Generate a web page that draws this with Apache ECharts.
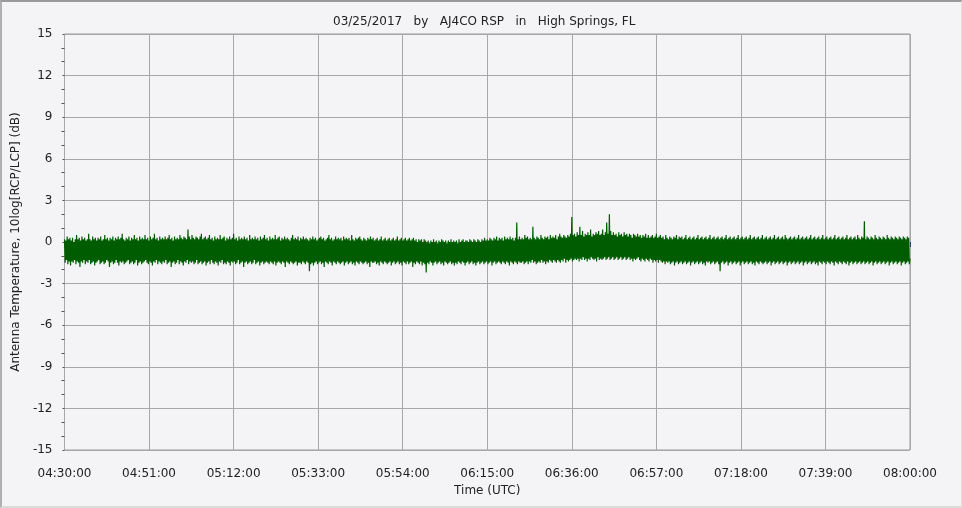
<!DOCTYPE html>
<html>
<head>
<meta charset="utf-8">
<script src="https://cdn.jsdelivr.net/npm/echarts@6/dist/echarts.min.js"></script>
<style>
html,body{margin:0;padding:0;background:#f4f4f6;}
#c{width:962px;height:508px;box-sizing:border-box;border-top:2px solid #9a9a9a;border-left:2px solid #b0b0b0;border-right:1px solid #e0e0e0;border-bottom:2px solid #dcdcdc;}
</style>
</head>
<body>
<div id="c"></div>
<script>
// ---- data ----
var titleText = '03/25/2017   by   AJ4CO RSP   in   High Springs, FL';
var xTickLabels = ['04:30:00','04:51:00','05:12:00','05:33:00','05:54:00','06:15:00','06:36:00','06:57:00','07:18:00','07:39:00','08:00:00'];
var xTickStepMinutes = 21;
var sampleStepSeconds = 10;
var yTicks = [-15,-12,-9,-6,-3,0,3,6,9,12,15];
var ratioDb = [
0.2,-1.5,0.1,-1.3,0.4,-1.6,0.2,-1.4,0.3,-1.7,
0.1,-1.4,0.3,-1.5,0.0,-1.3,0.2,-1.6,0.5,-1.4,
0.2,-1.5,0.3,-1.8,0.1,-1.4,0.4,-1.5,0.2,-1.3,
0.3,-1.6,0.1,-1.4,0.2,-1.5,0.6,-1.3,0.2,-1.6,
0.1,-1.5,0.4,-1.4,0.2,-1.7,0.3,-1.5,0.1,-1.4,
0.3,-1.3,0.2,-1.6,0.4,-1.5,0.1,-1.4,0.2,-1.6,
0.5,-1.5,0.2,-1.3,0.3,-1.4,0.1,-1.8,0.3,-1.5,
0.2,-1.4,0.4,-1.6,0.1,-1.5,0.3,-1.3,0.2,-1.5,
0.4,-1.7,0.2,-1.4,0.3,-1.5,0.6,-1.4,0.2,-1.6,
0.1,-1.5,0.3,-1.4,0.2,-1.3,0.4,-1.6,0.1,-1.5,
0.3,-1.4,0.2,-1.6,0.5,-1.5,0.2,-1.3,0.3,-1.7,
0.1,-1.5,0.4,-1.4,0.2,-1.6,0.3,-1.5,0.2,-1.4,
0.5,-1.3,0.2,-1.5,0.3,-1.6,0.1,-1.4,0.4,-1.5,
0.2,-1.7,0.3,-1.4,0.6,-1.5,0.2,-1.3,0.3,-1.6,
0.1,-1.4,0.4,-1.5,0.2,-1.6,0.3,-1.4,0.2,-1.5,
0.4,-1.3,0.2,-1.6,0.3,-1.5,0.5,-1.4,0.2,-1.8,
0.3,-1.5,0.1,-1.4,0.4,-1.6,0.2,-1.5,0.3,-1.3,
0.2,-1.6,0.5,-1.4,0.3,-1.5,0.2,-1.7,0.4,-1.4,
0.3,-1.5,0.2,-1.3,0.9,-1.6,0.4,-1.4,0.2,-1.5,
0.5,-1.4,0.3,-1.6,0.2,-1.5,0.4,-1.3,0.3,-1.6,
0.2,-1.5,0.4,-1.4,0.6,-1.6,0.2,-1.5,0.3,-1.4,
0.4,-1.7,0.2,-1.5,0.3,-1.4,0.5,-1.6,0.2,-1.3,
0.3,-1.5,0.1,-1.6,0.4,-1.4,0.2,-1.5,0.3,-1.7,
0.2,-1.4,0.5,-1.5,0.2,-1.3,0.3,-1.6,0.4,-1.5,
0.1,-1.6,0.3,-1.4,0.2,-1.5,0.4,-1.7,0.2,-1.4,
0.3,-1.5,0.6,-1.4,0.2,-1.6,0.3,-1.5,0.1,-1.3,
0.4,-1.6,0.2,-1.5,0.3,-1.4,0.2,-1.8,0.4,-1.5,
0.2,-1.4,0.3,-1.6,0.1,-1.5,0.5,-1.4,0.2,-1.6,
0.3,-1.5,0.2,-1.3,0.4,-1.6,0.2,-1.5,0.3,-1.4,
0.1,-1.7,0.4,-1.5,0.2,-1.4,0.3,-1.6,0.5,-1.5,
0.2,-1.4,0.3,-1.5,0.1,-1.6,0.4,-1.4,0.2,-1.5,
0.3,-1.6,0.2,-1.4,0.5,-1.7,0.2,-1.5,0.3,-1.4,
0.4,-1.5,0.1,-1.6,0.3,-1.4,0.2,-1.5,0.4,-1.8,
0.2,-1.4,0.3,-1.5,0.2,-1.6,0.1,-1.4,0.3,-1.5,
0.5,-1.6,0.2,-1.5,0.3,-1.4,0.2,-1.7,0.4,-1.5,
0.1,-1.5,0.3,-1.6,0.2,-1.4,0.4,-1.5,0.2,-1.6,
0.3,-1.4,0.2,-1.5,0.1,-2.1,0.3,-1.6,0.2,-1.5,
0.4,-1.7,0.2,-1.5,0.3,-1.4,0.1,-1.6,0.2,-1.5,
0.3,-1.4,0.4,-1.6,0.2,-1.5,0.3,-1.8,0.1,-1.4,
0.2,-1.5,0.3,-1.6,0.5,-1.4,0.2,-1.5,0.3,-1.7,
0.1,-1.4,0.2,-1.5,0.4,-1.6,0.2,-1.4,0.3,-1.5,
0.2,-1.6,0.3,-1.5,0.1,-1.4,0.4,-1.7,0.2,-1.5,
0.3,-1.4,0.2,-1.6,0.3,-1.5,0.1,-1.4,0.5,-1.6,
0.2,-1.5,0.1,-1.7,0.3,-1.4,0.2,-1.5,0.3,-1.6,
0.4,-1.4,0.2,-1.5,0.1,-1.6,0.3,-1.5,0.2,-1.4,
0.1,-1.6,0.3,-1.5,0.2,-1.8,0.4,-1.4,0.2,-1.5,
0.3,-1.5,0.1,-1.4,0.2,-1.6,0.3,-1.5,0.1,-1.7,
0.2,-1.4,0.4,-1.5,0.1,-1.6,0.2,-1.4,0.3,-1.5,
0.1,-1.6,0.2,-1.5,0.3,-1.4,0.1,-1.7,0.2,-1.5,
0.3,-1.4,0.1,-1.6,0.2,-1.5,0.4,-1.4,0.1,-1.6,
0.2,-1.5,0.3,-1.7,0.1,-1.4,0.2,-1.5,0.3,-1.6,
0.1,-1.4,0.2,-1.6,0.3,-1.5,0.1,-1.4,0.2,-1.8,
0.3,-1.5,0.1,-1.6,0.2,-1.4,0.0,-1.5,0.2,-1.6,
0.1,-1.4,0.2,-1.7,0.0,-1.5,0.2,-1.6,0.1,-2.2,
0.0,-1.5,0.1,-1.6,-0.1,-1.4,0.1,-1.5,0.0,-1.7,
0.2,-1.5,0.0,-1.4,0.1,-1.6,-0.1,-1.5,0.1,-1.4,
0.0,-1.6,0.2,-1.5,0.1,-1.7,0.0,-1.4,0.1,-1.5,
-0.1,-1.6,0.1,-1.5,0.0,-1.4,0.2,-1.6,0.0,-1.5,
0.1,-1.7,0.0,-1.5,0.1,-1.6,-0.1,-1.4,0.2,-1.5,
0.0,-1.6,0.1,-1.4,0.2,-1.5,0.0,-1.7,0.1,-1.5,
0.1,-1.4,0.0,-1.6,0.2,-1.5,0.1,-1.4,0.0,-1.6,
0.2,-1.5,0.1,-1.7,0.0,-1.5,0.2,-1.4,0.1,-1.6,
0.0,-1.5,0.2,-1.4,0.1,-1.6,0.3,-1.5,0.1,-1.4,
0.2,-1.6,0.1,-1.5,0.3,-1.4,0.2,-1.7,0.1,-1.5,
0.3,-1.4,0.2,-1.6,0.4,-1.5,0.1,-1.4,0.3,-1.5,
0.2,-1.6,0.3,-1.4,0.1,-1.5,0.4,-1.6,0.2,-1.4,
0.3,-1.5,0.2,-1.7,0.4,-1.4,0.2,-1.5,0.3,-1.6,
0.1,-1.4,0.3,-1.5,1.4,-1.6,0.2,-1.4,0.4,-1.5,
0.2,-1.5,0.3,-1.4,0.2,-1.6,0.5,-1.5,0.3,-1.4,
0.4,-1.6,0.2,-1.4,0.3,-1.5,0.2,-1.3,1.1,-1.5,
0.3,-1.4,0.2,-1.6,0.4,-1.5,0.3,-1.4,0.2,-1.5,
0.5,-1.3,0.3,-1.5,0.2,-1.4,0.4,-1.6,0.3,-1.4,
0.4,-1.5,0.2,-1.3,0.5,-1.4,0.3,-1.5,0.4,-1.3,
0.3,-1.4,0.5,-1.5,0.2,-1.3,0.4,-1.4,0.6,-1.5,
0.4,-1.3,0.3,-1.4,0.5,-1.2,0.4,-1.5,0.3,-1.3,
0.5,-1.4,0.4,-1.3,0.6,-1.2,1.8,-1.4,0.5,-1.3,
0.6,-1.2,0.4,-1.3,0.7,-1.2,0.5,-1.4,1.1,-1.2,
0.5,-1.3,0.8,-1.1,0.4,-1.3,0.6,-1.2,0.5,-1.4,
0.7,-1.2,0.5,-1.3,0.9,-1.1,0.4,-1.2,0.6,-1.3,
0.5,-1.2,0.7,-1.4,0.6,-1.1,0.8,-1.3,0.5,-1.2,
0.6,-1.3,0.9,-1.2,0.5,-1.1,0.7,-1.3,1.4,-1.2,
0.6,-1.1,2.0,-1.3,0.8,-1.2,0.5,-1.1,0.7,-1.3,
0.5,-1.2,0.6,-1.1,0.4,-1.3,0.7,-1.2,0.5,-1.1,
0.6,-1.3,0.4,-1.2,0.7,-1.1,0.5,-1.3,0.6,-1.2,
0.4,-1.1,0.6,-1.3,0.5,-1.2,0.3,-1.4,0.6,-1.2,
0.5,-1.3,0.4,-1.2,0.6,-1.1,0.4,-1.3,0.5,-1.4,
0.3,-1.2,0.5,-1.3,0.4,-1.4,0.6,-1.2,0.3,-1.3,
0.5,-1.4,0.3,-1.2,0.4,-1.3,0.5,-1.5,0.3,-1.3,
0.4,-1.4,0.6,-1.3,0.3,-1.5,0.4,-1.3,0.5,-1.4,
0.3,-1.5,0.4,-1.4,0.2,-1.6,0.5,-1.4,0.3,-1.5,
0.2,-1.4,0.4,-1.6,0.3,-1.5,0.2,-1.4,0.4,-1.7,
0.3,-1.5,0.5,-1.4,0.2,-1.6,0.4,-1.5,0.3,-1.4,
0.4,-1.6,0.2,-1.5,0.3,-1.4,0.5,-1.6,0.2,-1.5,
0.3,-1.4,0.4,-1.7,0.2,-1.5,0.3,-1.4,0.4,-1.6,
0.2,-1.5,0.3,-1.4,0.5,-1.6,0.2,-1.5,0.3,-1.4,
0.4,-1.6,0.2,-1.5,0.3,-1.7,0.4,-1.4,0.2,-1.5,
0.3,-1.4,0.5,-1.6,0.2,-1.5,0.3,-1.4,0.4,-1.6,
0.2,-1.5,0.3,-1.4,0.4,-1.6,0.2,-2.1,0.3,-1.5,
0.4,-1.4,0.2,-1.6,0.3,-1.5,0.5,-1.4,0.2,-1.7,
0.3,-1.5,0.4,-1.4,0.2,-1.6,0.3,-1.5,0.4,-1.4,
0.2,-1.6,0.3,-1.5,0.5,-1.4,0.2,-1.7,0.3,-1.5,
0.4,-1.4,0.2,-1.6,0.3,-1.5,0.4,-1.4,0.2,-1.6,
0.3,-1.5,0.5,-1.4,0.2,-1.6,0.3,-1.5,0.4,-1.7,
0.2,-1.4,0.3,-1.5,0.4,-1.6,0.2,-1.4,0.3,-1.5,
0.5,-1.6,0.2,-1.5,0.3,-1.4,0.4,-1.6,0.2,-1.5,
0.3,-1.4,0.4,-1.7,0.2,-1.5,0.3,-1.4,0.5,-1.6,
0.2,-1.5,0.3,-1.4,0.4,-1.6,0.2,-1.5,0.3,-1.4,
0.4,-1.6,0.2,-1.5,0.5,-1.4,0.3,-1.7,0.2,-1.5,
0.3,-1.4,0.4,-1.6,0.2,-1.5,0.3,-1.4,0.4,-1.6,
0.2,-1.5,0.3,-1.4,0.5,-1.6,0.2,-1.5,0.3,-1.4,
0.4,-1.7,0.2,-1.5,0.3,-1.4,0.4,-1.6,0.2,-1.5,
0.3,-1.4,0.5,-1.6,0.2,-1.5,0.3,-1.4,0.4,-1.6,
0.2,-1.5,0.3,-1.7,0.4,-1.4,0.2,-1.5,0.3,-1.6,
0.5,-1.4,0.2,-1.5,0.3,-1.6,0.4,-1.4,0.2,-1.5,
0.3,-1.6,0.4,-1.4,0.2,-1.5,0.3,-1.7,0.5,-1.4,
0.2,-1.5,0.3,-1.6,0.4,-1.4,0.2,-1.5,0.3,-1.6,
0.4,-1.4,0.2,-1.5,0.3,-1.6,0.5,-1.4,0.2,-1.7,
0.3,-1.5,0.4,-1.4,0.2,-1.6,0.3,-1.5,0.4,-1.4,
0.2,-1.6,0.5,-1.5,0.3,-1.4,0.2,-1.6,0.4,-1.5,
0.3,-1.4,1.5,-1.6,0.2,-1.5,0.4,-1.4,0.3,-1.6,
0.2,-1.5,0.4,-1.4,0.3,-1.7,0.2,-1.5,0.5,-1.4,
0.3,-1.6,0.2,-1.5,0.4,-1.4,0.3,-1.6,0.2,-1.5,
0.4,-1.4,0.3,-1.6,0.2,-1.5,0.5,-1.4,0.3,-1.7,
0.2,-1.5,0.4,-1.4,0.3,-1.6,0.2,-1.5,0.4,-1.4,
0.3,-1.6,0.2,-1.5,0.4,-1.4,0.3,-1.7,0.2,-1.5,
0.4,-1.4,0.3,-1.6,0.2,-1.5,0.4,-1.4,0.3,-1.6,
-1.2
];

// ---- chart ----
var seriesData = ratioDb.map(function(v, i){ return [i * sampleStepSeconds / 60, v]; });
var xMax = (xTickLabels.length - 1) * xTickStepMinutes;
var font = '"DejaVu Sans", Verdana, sans-serif';
var chart = echarts.init(document.getElementById('c'), null, {renderer:'canvas'});
chart.setOption({
  backgroundColor: '#f4f4f6',
  animation: false,
  title: {
    text: titleText, left: 326, top: 9,
    textStyle: {fontFamily: font, fontSize: 12, fontWeight: 'normal', color: '#222'}
  },
  grid: {left: 62, right: 51, top: 32, bottom: 56, show: true, borderColor: '#999', borderWidth: 1, backgroundColor: 'transparent'},
  xAxis: {
    type: 'value', min: 0, max: xMax, interval: xTickStepMinutes,
    offset: 4,
    name: 'Time (UTC)', nameLocation: 'middle', nameGap: 31,
    nameTextStyle: {fontFamily: font, fontSize: 12, color: '#222'},
    axisLine: {show: false},
    axisTick: {show: true, length: 5, lineStyle: {color: '#2a3d6a'}},
    minorTick: {show: true, splitNumber: 6, length: 2, lineStyle: {color: '#2a3d6a'}},
    splitLine: {show: true, lineStyle: {color: '#a8a8a8', width: 1}},
    axisLabel: {
      fontFamily: font, fontSize: 12, color: '#222', margin: 14,
      formatter: function(v){ return xTickLabels[Math.round(v / xTickStepMinutes)] || ''; }
    }
  },
  yAxis: {
    type: 'value', min: yTicks[0], max: yTicks[yTicks.length-1], interval: 3,
    offset: 4,
    name: 'Antenna Temperature, 10log[RCP/LCP] (dB)', nameLocation: 'middle', nameGap: 37,
    nameTextStyle: {fontFamily: font, fontSize: 12, color: '#222'},
    axisLine: {show: false},
    axisTick: {show: true, length: 2, lineStyle: {color: '#555'}},
    minorTick: {show: true, splitNumber: 3, length: 3, lineStyle: {color: '#555'}},
    splitLine: {show: true, lineStyle: {color: '#a8a8a8', width: 1}},
    axisLabel: {fontFamily: font, fontSize: 12, color: '#222', margin: 8}
  },
  series: [{
    type: 'line', data: seriesData, showSymbol: false, symbol: 'none',
    lineStyle: {color: '#005c00', width: 1.2}, sampling: null, z: 3
  }]
});
</script>
</body>
</html>
